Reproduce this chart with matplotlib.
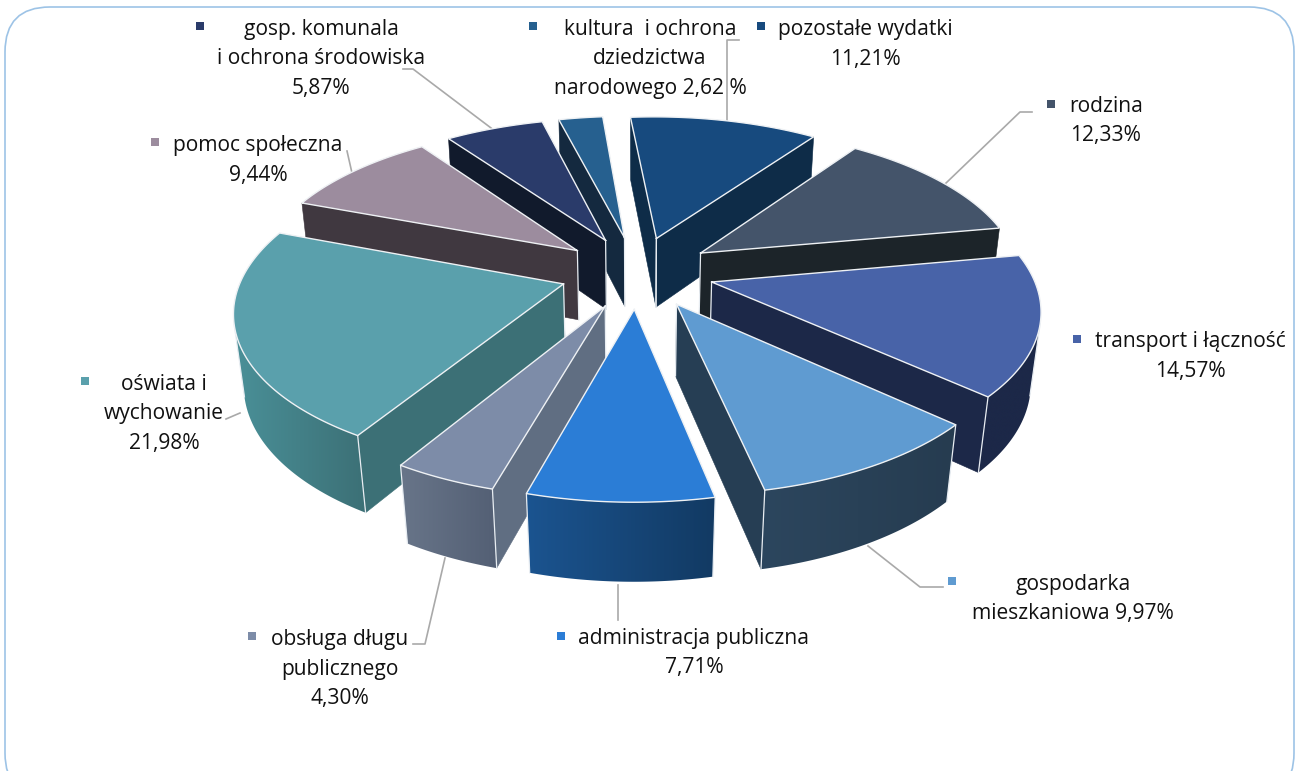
import numpy as np
import matplotlib.pyplot as plt
from matplotlib.patches import FancyBboxPatch, Polygon

WIDTH = 1295
HEIGHT = 771
FONT = "Open Sans"
FONT_SIZE = 15.1

# Slices in clockwise order, from the top of the pie.
categories = [
    "pozostałe wydatki",
    "rodzina",
    "transport i łączność",
    "gospodarka mieszkaniowa",
    "administracja publiczna",
    "obsługa długu publicznego",
    "oświata i wychowanie",
    "pomoc społeczna",
    "gosp. komunala i ochrona środowiska",
    "kultura i ochrona dziedzictwa narodowego",
]
values = [11.21, 12.33, 14.57, 9.97, 7.71, 4.30, 21.98, 9.44, 5.87, 2.62]

top_colors = ["#174a7e", "#44546a", "#4863a8", "#5f9bd1", "#2b7dd6",
              "#7d8ca8", "#5aa0ac", "#9c8c9e", "#2a3b6a", "#26608f"]
side_colors = ["#0e2c48", "#1c2429", "#1c2848", "#263e54", "#163c66",
               "#606e82", "#3c7076", "#403840", "#111a2c", "#14293f"]
arc_left = ["#12335a", "#1c2429", "#1c2848", "#2c465e", "#1b5490",
            "#687589", "#4a9098", "#403840", "#111a2c", "#14293f"]
arc_right = ["#12335a", "#1c2429", "#1c2848", "#263c50", "#123a63",
             "#535f74", "#3c7076", "#403840", "#111a2c", "#14293f"]

# Text, as it is broken into lines on the chart.
label_lines = [
    ["pozostałe wydatki", "11,21%"],
    ["rodzina", "12,33%"],
    ["transport i łączność", "14,57%"],
    ["gospodarka", "mieszkaniowa 9,97%"],
    ["administracja publiczna", "7,71%"],
    ["obsługa długu", "publicznego", "4,30%"],
    ["oświata i", "wychowanie", "21,98%"],
    ["pomoc społeczna", "9,44%"],
    ["gosp. komunala", "i ochrona środowiska", "5,87%"],
    ["kultura  i ochrona", "dziedzictwa", "narodowego 2,62 %"],
]

# Layout in pixels: centre x of the text, baseline of line one, legend square.
label_x = [865, 1106, 1190, 1073, 694, 340, 164, 258, 321, 650]
label_y = [35, 112, 347, 590, 644, 645, 390, 151, 35, 35]
key_pos = [(761, 26), (1051, 104), (1077, 339), (952, 581), (561, 636),
           (252, 636), (85, 381), (155, 142), (200, 26), (533, 26)]
LINE_STEP = 29.5

leaders = [
    [(739, 40), (727, 40), (727, 123)],
    [(1032, 112), (1020, 112), (945, 184)],
    [(943, 587), (920, 587), (868, 546)],
    [(618, 585), (618, 620)],
    [(413, 644), (425, 644), (445, 558)],
    [(226, 419), (240, 413)],
    [(347, 151), (352, 173)],
    [(403, 69), (413, 69), (495, 131)],
]

# Perspective used to flatten the pie.
CX, CY = 637, 272
SCALE_X, SCALE_Y, DEPTH = 320, 150, 72
PERSP_Y, PERSP_Z = 0.155, 0.025
EXPLODE = 0.24
START_ANGLE = -5.0
EDGE = "#e8edf2"


def project(x, y, z=0.0):
    w = 1 + PERSP_Y * y - PERSP_Z * z
    return CX + SCALE_X * x / w, CY - (SCALE_Y * y + DEPTH * z) / w


def signed_area(pts):
    xs, ys = np.array(pts).T
    return 0.5 * np.sum(xs * np.roll(ys, -1) - np.roll(xs, -1) * ys)


def hex_rgb(color):
    return [int(color[j:j + 2], 16) / 255 for j in (1, 3, 5)]


def draw_slice(ax, i, start, end, z):
    mid = np.radians((start + end) / 2)
    ox, oy = EXPLODE * np.sin(mid), EXPLODE * np.cos(mid)
    angles = np.radians(np.linspace(start, end, 80))
    rim = [(ox + np.sin(a), oy + np.cos(a)) for a in angles]

    apex_top = project(ox, oy)
    apex_bot = project(ox, oy, -1)
    rim_top = [project(x, y) for x, y in rim]
    rim_bot = [project(x, y, -1) for x, y in rim]

    # Radial walls, only those turned towards the viewer.
    for k, sign in ((0, -1), (-1, 1)):
        quad = [apex_top, rim_top[k], rim_bot[k], apex_bot]
        if signed_area(quad) * sign > 0:
            ax.fill(*zip(*quad), color=side_colors[i], lw=0.4, zorder=z)
            ax.plot(*zip(apex_top, apex_bot), color=EDGE, lw=0.9, zorder=z + 0.1)

    # Outer wall, shaded from left to right.
    shown = [k for k in range(len(rim) - 1)
             if signed_area([rim_top[k], rim_top[k + 1], rim_bot[k + 1], rim_bot[k]]) < 0]
    if shown:
        a, b = shown[0], shown[-1] + 1
        wall = rim_top[a:b + 1] + rim_bot[a:b + 1][::-1]
        xs, ys = zip(*wall)
        grad = np.linspace(hex_rgb(arc_left[i]), hex_rgb(arc_right[i]), 256)[None, :, :]
        im = ax.imshow(grad, extent=[min(xs), max(xs), max(ys), min(ys)],
                       aspect="auto", interpolation="bilinear", zorder=z + 0.2)
        patch = Polygon(wall, closed=True, fc="none", ec="none", transform=ax.transData)
        ax.add_patch(patch)
        im.set_clip_path(patch)
        for k in (a, b):
            ax.plot(*zip(rim_top[k], rim_bot[k]), color=EDGE, lw=0.9, zorder=z + 0.3)

    outline = [apex_top] + rim_top + [apex_top]
    ax.fill(*zip(*outline), color=top_colors[i], lw=0, zorder=z + 0.4)
    ax.plot(*zip(*outline), color="#eef1f4", lw=1.0, solid_joinstyle="miter", zorder=z + 0.5)


fig = plt.figure(figsize=(WIDTH / 100, HEIGHT / 100), dpi=100)
ax = fig.add_axes([0, 0, 1, 1])

frame = FancyBboxPatch(
    (50, 52), WIDTH - 96, 701,
    boxstyle="round,pad=45,rounding_size=45",
    fc="white", ec="#9dc3e6", lw=1.2, zorder=0,
)
ax.add_patch(frame)

for pts in leaders:
    ax.plot(*zip(*pts), color="#a9a9a9", lw=1.2, zorder=1)

# Back slices first, so the front ones cover them.
edges = START_ANGLE + np.cumsum([0] + values) * 3.6
mids = np.radians((edges[:-1] + edges[1:]) / 2)
for n, i in enumerate(np.argsort(-np.cos(mids))):
    draw_slice(ax, i, edges[i], edges[i + 1], 2 + n)

for lines, x, y, key, color in zip(label_lines, label_x, label_y, key_pos, top_colors):
    for n, line in enumerate(lines):
        ax.text(x, y + n * LINE_STEP, line, ha="center", va="baseline",
                family=FONT, fontsize=FONT_SIZE, color="#111111", zorder=20)
    ax.scatter(*key, marker="s", s=33, color=color, linewidths=0, zorder=20)

ax.set_xlim(0, WIDTH)
ax.set_ylim(HEIGHT, 0)
ax.axis("off")

fig.savefig("out.png", dpi=100)
